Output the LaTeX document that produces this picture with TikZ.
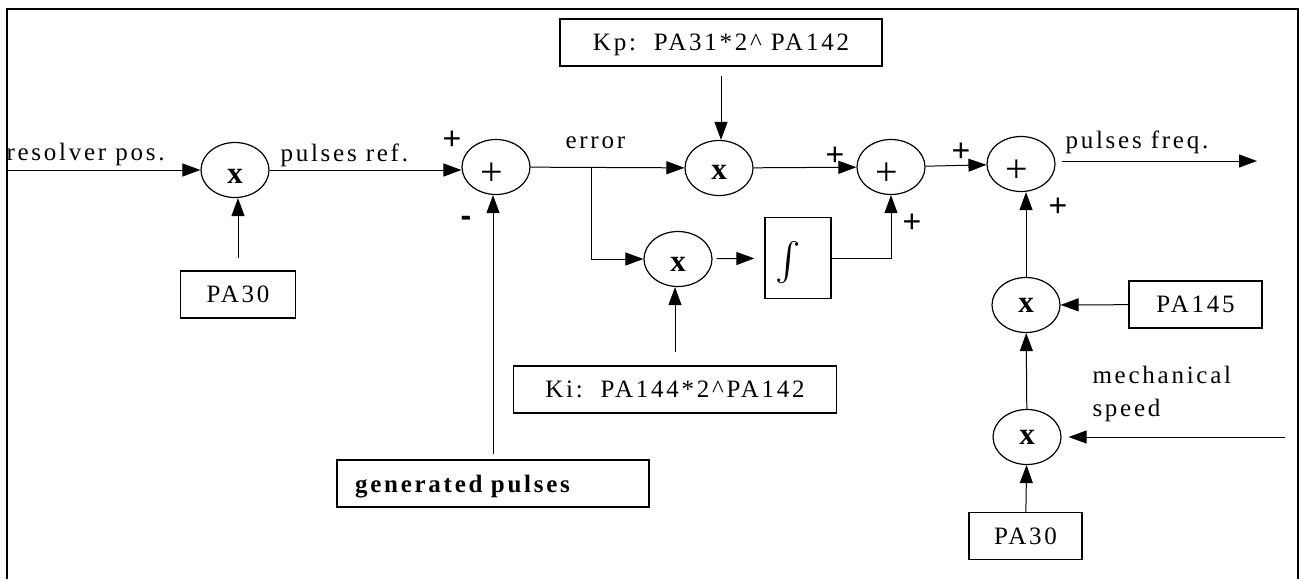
\documentclass[tikz,border=0pt]{standalone}
\usepackage{fontspec}
\setmainfont{Liberation Serif}
\newfontfamily\txtfont{Liberation Serif}[LetterSpace=11]
\newfontfamily\signfont{Liberation Sans}
\usetikzlibrary{shapes.geometric,arrows.meta}
\newcommand\txtsize{\txtfont\fontsize{12.5}{16.5}\selectfont}

\begin{document}
\begin{tikzpicture}[x=0.5pt,y=-0.5pt,line width=0.5pt,
		>={Triangle[length=9pt,width=6.5pt]},
		txt/.style={font=\txtsize,inner sep=0pt},
		box/.style={draw,line width=0.65pt,minimum height=23.5pt,inner sep=0pt,text depth=0pt,font=\txtsize},
		op/.style={ellipse,draw,line width=0.6pt,minimum width=34pt,minimum height=27.5pt,inner sep=0pt},
		mul/.style={op,label={[font=\bfseries\fontsize{15.5}{15.5}\selectfont,yshift=#1]center:x}},
		mul/.default=-2.5pt,
		add/.style={op,label={[font=\fontsize{20}{20}\selectfont,xshift=-2pt,yshift=-3.5pt]center:+}},
		sgn/.style={font=\signfont\fontsize{16}{16}\selectfont,inner sep=0pt}]
	\useasboundingbox (0,0) rectangle (1300,579);
	% Khung
	\draw[line width=1pt] (6.5,579) -- (6.5,9) -- (1298,9) -- (1298,579);
	% Khối nhân và khối cộng
	\node[mul=-3pt] (m1) at (235,170) {};
	\node[add] (s1) at (496,167) {};
	\node[mul=-2pt] (mp) at (719,168) {};
	\node[mul] (mi) at (678,259) {};
	\node[add] (s2) at (891,167) {};
	\node[add] (s3) at (1021,164) {};
	\node[mul=0pt] (m5) at (1026,305) {};
	\node[mul=0pt] (m6) at (1027,437) {};
	% Hộp tham số
	\node[box,minimum width=57.5pt] (pa30a) at (238,294.5) {PA30};
	\node[box,minimum width=161pt] (kp) at (721,42.5) {Kp:\ \ PA31*2\textasciicircum\ PA142};
	\node[box,minimum width=161.5pt] (ki) at (675,389.5) {Ki:\ \ PA144*2\textasciicircum PA142};
	\node[box,minimum width=156pt,text width=138pt,inner xsep=9pt,align=left,font=\txtsize\bfseries] (gen) at (493,483.5) {generated\ pulses};
	\node[box,minimum width=33pt,minimum height=40.5pt] (integ) at (798,258) {\scalebox{1.9}{$\int$}\hspace*{10pt}};
	\node[box,minimum width=66.5pt] (pa145) at (1195.5,304.5) {PA145};
	\node[box,minimum width=56.5pt] (pa30b) at (1025.5,536) {PA30};
	% Nhãn
	\node[txt,anchor=base west] (rp) at (6,160) {resolver pos.};
	\node[txt,anchor=base west] (pr) at (280,161) {pulses ref.};
	\node[txt,anchor=base west] (err) at (565,148) {error};
	\node[txt,anchor=base west] (pf) at (1065,148) {pulses freq.};
	\node[txt,anchor=west,align=left] (ms) at (1092,394) {mechanical\\speed};
	% Dấu
	\node[sgn] (p1) at (452,140) {+};
	\node[sgn] (n1) at (466,221) {\textbf{-}};
	\node[sgn] (p2) at (835,156) {+};
	\node[sgn] (p3) at (912,223) {+};
	\node[sgn] (p4) at (961,152) {+};
	\node[sgn] (p5) at (1058,207) {+};
	% Đường nối
	\coordinate (in) at (6,170);
	\coordinate (br) at (591,167.4);
	\coordinate (out) at (1257,161);
	\coordinate (msin) at (1285,437);
	\draw[->] (in) -- (m1);
	\draw[->,shorten <=6pt] (pa30a.north) -- (pa30a.north |- m1.south);
	\draw[->] (m1.east) -- (m1.east -| s1.west);
	\draw[->,shorten <=2.5pt] (gen.north) -- (gen.north |- s1.south);
	\draw[->] (s1) -- (mp);
	\draw[->] (br) |- (mi);
	\draw[->,shorten <=4.5pt] (kp.south) -- (kp.south |- mp.north);
	\draw[->,shorten <=6.5pt] (ki.north) -- (ki.north |- mi.south);
	\draw[->,shorten <=2pt,shorten >=5pt] (mi) -- (integ);
	\draw[->] (mp) -- (s2);
	\draw[->] (integ.east) -| (s2.south);
	\draw[->] (s2) -- (s3);
	\draw[->,shorten <=3pt] (s3.east |- out) -- (out);
	\draw[->] (m5.north) -- (m5.north |- s3.south);
	\draw[->] (pa145) -- (m5);
	\draw[->] (m6) -- (m5);
	\draw[->] (pa30b) -- (m6);
	\draw[->,shorten >=3.5pt] (msin) -- (m6);
\end{tikzpicture}
\end{document}
